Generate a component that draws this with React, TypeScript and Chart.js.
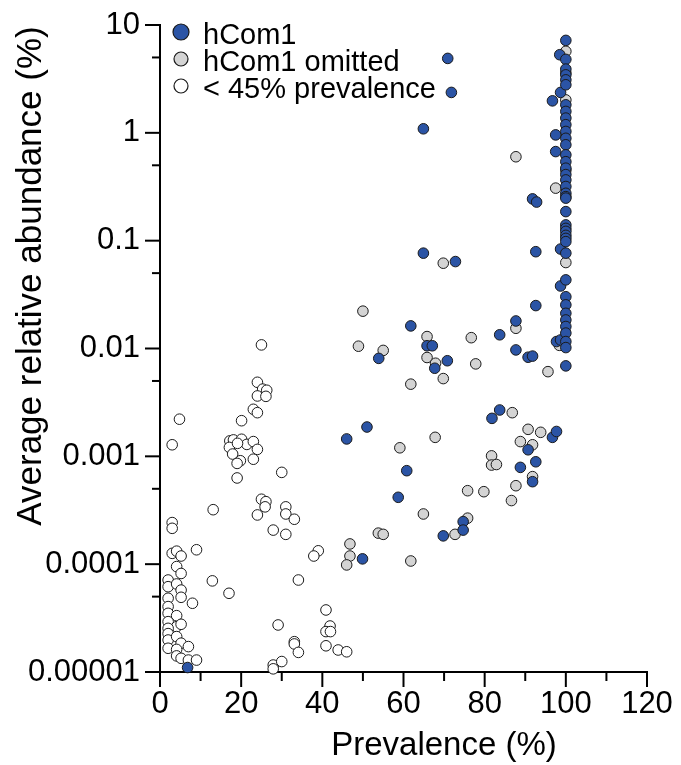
import React, { useEffect, useRef } from "react";
import { Chart, registerables } from "chart.js";
Chart.register(...registerables);

const FONT = "'Liberation Sans', Arial, Helvetica, sans-serif";

const seriesNames = ["hCom1", "hCom1 omitted", "< 45% prevalence"];
const seriesColors = ["#2b54a5", "#d4d4d4", "#ffffff"];

const xTickValues = [0, 20, 40, 60, 80, 100, 120];
const xMinorTicks = [10, 30, 50, 70, 90, 110];
const yTickValues = [0.00001, 0.0001, 0.001, 0.01, 0.1, 1, 10];
const yTickLabels = ["0.00001", "0.0001", "0.001", "0.01", "0.1", "1", "10"];
const yMinorTicks = [0.00005, 0.0005, 0.005, 0.05, 0.5, 5];

const xTitle = "Prevalence (%)";
const yTitle = "Average relative abundance (%)";

// [prevalence %, average relative abundance %]
const hCom1Points: [number, number][] = [
  [70.9, 4.9], [71.8, 2.37], [64.9, 1.09], [64.9, 0.0766], [72.8, 0.064],
  [61.8, 0.0162], [65.8, 0.0106], [67.1, 0.0106], [70.8, 0.0077], [67.7, 0.00656],
  [53.9, 0.0081], [83.7, 0.0134], [87.7, 0.018], [87.7, 0.0097], [90.7, 0.0083],
  [91.8, 0.0085], [92.6, 0.025], [92.6, 0.079], [91.8, 0.244], [92.8, 0.228],
  [96.7, 1.98], [97.5, 0.957], [97.5, 0.67], [98.5, 5.3], [98.7, 2.37],
  [98.7, 0.0836], [98.7, 0.038], [97.7, 0.0116], [98.7, 0.012],
  [81.8, 0.00225], [83.7, 0.00269], [90.7, 0.00115], [92.6, 0.00089], [88.8, 0.00079],
  [91.8, 0.000582], [96.7, 0.0015], [97.7, 0.0017], [51, 0.00187], [46, 0.00145],
  [60.8, 0.000736], [58.7, 0.000417], [74.7, 0.000248], [74.7, 0.000207], [69.8, 0.000183],
  [49.9, 0.000112], [6.8, 0.000011],
  [100, 7.2], [100, 4.8], [100, 3.9], [100, 3.45], [100, 3.1], [100, 2.79],
  [100, 1.82], [100, 1.58], [100, 1.37], [100, 1.19], [100, 1.03], [100, 0.89],
  [100, 0.775], [100, 0.625], [100, 0.54], [100, 0.47], [100, 0.41], [100, 0.366],
  [100, 0.318], [100, 0.275], [100, 0.256], [100, 0.248], [100, 0.186], [100, 0.14],
  [100, 0.13], [100, 0.122], [100, 0.112], [100, 0.105], [100, 0.098], [100, 0.0766],
  [100, 0.0433], [100, 0.0302], [100, 0.0254], [100, 0.0212], [100, 0.0184], [100, 0.016],
  [100, 0.0139], [100, 0.0116], [100, 0.0102], [100, 0.0069],
];

const omittedPoints: [number, number][] = [
  [100, 5.7], [100, 3.6], [100, 2.02], [100, 0.45], [100, 0.0627], [87.7, 0.6],
  [97.5, 0.307], [69.8, 0.0618], [50, 0.0222], [48.9, 0.0105], [55, 0.0096],
  [65.8, 0.0129], [65.8, 0.00825], [67.9, 0.0073], [76.7, 0.0126], [77.8, 0.0072],
  [69.8, 0.00526], [61.8, 0.00467], [87.7, 0.0154], [95.6, 0.0061], [98.4, 0.0107],
  [86.8, 0.00254], [90.7, 0.00178], [93.8, 0.00167], [88.8, 0.00137], [91.8, 0.00128],
  [67.8, 0.0015], [59.1, 0.0012], [81.7, 0.00101], [81.7, 0.00083], [82.9, 0.00084],
  [91.8, 0.000648], [87.7, 0.000534], [86.6, 0.000389], [75.8, 0.00048], [79.8, 0.00047],
  [64.9, 0.000292], [75.8, 0.000267], [72.7, 0.000189], [53.8, 0.000194], [55, 0.000189],
  [46.8, 0.000154], [46.8, 0.000119], [46, 0.0000984], [61.8, 0.000107],
];

const lowPrevalencePoints: [number, number][] = [
  [25, 0.0108], [24, 0.00486], [25.3, 0.0042], [26.3, 0.0041], [24, 0.00363], [26.1, 0.0036],
  [23, 0.00273], [24, 0.00254], [20.1, 0.00214], [17.2, 0.00139], [18.1, 0.00142], [20.1, 0.00144],
  [21.4, 0.00129], [23, 0.00137], [17.1, 0.00121], [19.1, 0.00132], [24, 0.00116], [17.9, 0.00105],
  [19.8, 0.00091], [19, 0.00086], [23, 0.00094], [19, 0.00063], [30, 0.00071], [13.1, 0.00032],
  [25, 0.0004], [26.1, 0.00038], [25.9, 0.00034], [24, 0.000286], [31, 0.00034], [31, 0.000292],
  [33.1, 0.000261], [27.9, 0.000207], [31, 0.000189], [39, 0.000133], [37.9, 0.000119],
  [34.1, 0.0000713], [12.9, 0.00007], [17, 0.0000537], [40.9, 0.0000376], [41.9, 0.0000267],
  [40.9, 0.0000237], [42, 0.0000237], [40.9, 0.0000175], [43.9, 0.000016], [46, 0.0000154],
  [29.1, 0.0000273], [33.1, 0.0000191], [33.1, 0.0000182], [34.1, 0.0000152], [27.9, 0.0000116],
  [27.9, 0.0000107], [30, 0.0000125],
  [3.0, 0.00128], [4.8, 0.00221], [3.0, 0.000243], [3.0, 0.000215], [3.0, 0.000126], [4.1, 0.000132],
  [5.2, 0.000119], [9.0, 0.000136], [4.1, 0.000095], [5.2, 0.000082], [2, 0.0000713], [2, 0.0000618],
  [4.1, 0.0000655], [5.2, 0.0000575], [5.2, 0.0000493], [2, 0.0000483], [2, 0.0000404], [8, 0.0000434],
  [2, 0.000035], [4.1, 0.0000333], [2, 0.0000293], [4.1, 0.0000263], [5.2, 0.0000277], [2, 0.0000254],
  [2, 0.0000227], [2, 0.0000198], [4.1, 0.0000213], [5.2, 0.0000185], [7, 0.0000172], [2, 0.0000166],
  [4.1, 0.0000162], [4.1, 0.0000141], [5.2, 0.0000134], [7, 0.0000129], [9, 0.0000129],
];

const allSeries = [hCom1Points, omittedPoints, lowPrevalencePoints];

const axisPlugin = {
  id: "customAxes",
  afterDraw(chart: any) {
    const ctx = chart.ctx;
    const xs = chart.scales.x;
    const ys = chart.scales.y;
    const { left, bottom } = chart.chartArea;
    ctx.save();
    ctx.strokeStyle = "#000";
    ctx.lineWidth = 2;
    ctx.lineCap = "butt";
    const line = (x1: number, y1: number, x2: number, y2: number) => {
      ctx.beginPath();
      ctx.moveTo(x1, y1);
      ctx.lineTo(x2, y2);
      ctx.stroke();
    };
    xTickValues.forEach((v) => {
      const p = xs.getPixelForValue(v);
      line(p, bottom, p, bottom + 15);
    });
    xMinorTicks.forEach((v) => {
      const p = xs.getPixelForValue(v);
      line(p, bottom, p, bottom + 9);
    });
    yTickValues.forEach((v) => {
      const p = ys.getPixelForValue(v);
      line(left, p, left - 15, p);
    });
    yMinorTicks.forEach((v) => {
      const p = ys.getPixelForValue(v);
      line(left, p, left - 8, p);
    });

    // axis titles
    ctx.fillStyle = "#000";
    ctx.font = `33px ${FONT}`;
    ctx.textAlign = "center";
    ctx.textBaseline = "alphabetic";
    ctx.fillText(xTitle, 444, 755);

    ctx.save();
    ctx.translate(31, 276);
    ctx.rotate(-Math.PI / 2);
    ctx.font = `35px ${FONT}`;
    ctx.textAlign = "center";
    ctx.textBaseline = "middle";
    ctx.fillText(yTitle, 0, 0);
    ctx.restore();

    // legend
    const legendY = [44, 71, 98];
    const legendR = [8, 7, 7];
    ctx.font = `29px ${FONT}`;
    ctx.textAlign = "left";
    ctx.textBaseline = "alphabetic";
    seriesNames.forEach((name, i) => {
      ctx.beginPath();
      ctx.arc(181, legendY[i] - 12, legendR[i], 0, Math.PI * 2);
      ctx.fillStyle = seriesColors[i];
      ctx.fill();
      ctx.lineWidth = 1.2;
      ctx.strokeStyle = "#1a1a1a";
      ctx.stroke();
      ctx.fillStyle = "#000";
      ctx.fillText(name, 203, legendY[i]);
    });
    ctx.restore();
  },
};

export default function App() {
  const ref = useRef<HTMLCanvasElement>(null);
  useEffect(() => {
    const chart = new Chart(ref.current!, {
      type: "scatter",
      data: {
        datasets: allSeries.map((pts, i) => ({
          label: seriesNames[i],
          data: pts.map(([x, y]) => ({ x, y })),
          backgroundColor: seriesColors[i],
          borderColor: "#1a1a1a",
          borderWidth: 1,
          pointRadius: 5.3,
          pointHoverRadius: 5.3,
          clip: false as any,
        })),
      },
      options: {
        responsive: false,
        animation: false,
        devicePixelRatio: 1,
        layout: { padding: { top: 25, right: 34, left: 0, bottom: 0 } },
        plugins: { legend: { display: false }, tooltip: { enabled: false } },
        scales: {
          x: {
            type: "linear",
            min: 0,
            max: 120,
            afterBuildTicks: (s: any) => {
              s.ticks = xTickValues.map((v) => ({ value: v }));
            },
            afterFit: (s: any) => {
              s.height = 93;
              s.paddingLeft = 0;
              s.paddingRight = 0;
            },
            grid: { display: false, drawTicks: false },
            border: { display: true, color: "#000", width: 2 },
            ticks: {
              autoSkip: false,
              maxRotation: 0,
              padding: 14,
              color: "#000",
              font: { family: FONT, size: 31 },
            },
          },
          y: {
            type: "logarithmic",
            min: 0.00001,
            max: 10,
            afterBuildTicks: (s: any) => {
              s.ticks = yTickValues.map((v) => ({ value: v }));
            },
            afterFit: (s: any) => {
              s.width = 160;
              s.paddingTop = 0;
              s.paddingBottom = 0;
            },
            grid: { display: false, drawTicks: false },
            border: { display: true, color: "#000", width: 2 },
            ticks: {
              autoSkip: false,
              padding: 20,
              color: "#000",
              font: { family: FONT, size: 31 },
              callback: (v: any) => {
                const idx = yTickValues.findIndex((t) => Math.abs(Math.log10(t) - Math.log10(Number(v))) < 1e-6);
                return idx >= 0 ? yTickLabels[idx] : "";
              },
            },
          },
        },
      },
      plugins: [axisPlugin],
    } as any);
    return () => chart.destroy();
  }, []);
  return (
    <div style={{ position: "fixed", left: 0, top: 0, width: 681, height: 765, background: "#fff" }}>
      <canvas ref={ref} width={681} height={765} style={{ width: 681, height: 765, display: "block" }} />
    </div>
  );
}
